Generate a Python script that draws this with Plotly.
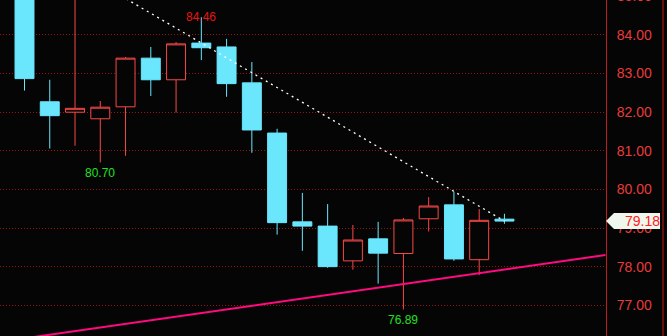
import plotly.graph_objects as go

# ---- data ----
idx = list(range(20))
opens  = [85.60, 82.27, 82.00, 81.83, 82.14, 83.40, 82.84, 83.79, 83.69, 82.76,
          81.46, 79.16, 79.05, 78.15, 78.72, 78.34, 79.24, 79.60, 78.18, 79.23]
highs  = [85.90, 82.84, 85.30, 82.29, 83.43, 83.69, 83.82, 84.46, 83.90, 83.30,
          81.57, 79.91, 79.62, 79.08, 79.16, 79.26, 79.80, 79.94, 79.49, 79.37]
lows   = [82.56, 81.06, 81.13, 80.70, 80.87, 82.42, 81.99, 83.35, 82.40, 80.95,
          78.83, 78.41, 77.97, 77.92, 77.56, 76.89, 78.91, 78.15, 77.78, 79.11]
closes = [82.87, 81.91, 82.10, 82.13, 83.40, 82.84, 83.77, 83.67, 82.74, 81.54,
          79.14, 79.05, 78.00, 78.69, 78.35, 79.21, 79.57, 78.20, 79.20, 79.18]

resist_x = [3, 19]
resist_y = [85.33, 79.18]
support_x = [-1, 23]
support_y = [76.05, 78.30]

tick_vals = [77, 78, 79, 80, 81, 82, 83, 84]
marks = [(7, 84.46, "#e61414", 0), (3, 80.70, "#22e022", -11), (15, 76.89, "#22e022", -10)]
last_price = 79.18

Y_MIN, Y_MAX = 76.204, 84.906
X_MIN, X_MAX = -0.97, 23.02
PLOT_W, PLOT_H = 606, 336
px_per_unit = PLOT_H / (Y_MAX - Y_MIN)

CYAN = "#6ae6fd"
RED = "#f84848"
BG = "#050505"
AXRED = "#c01e1e"

fig = go.Figure()

fig.add_trace(go.Scatter(x=support_x, y=support_y, mode="lines",
                         line=dict(color="#ff0a80", width=2), hoverinfo="skip"))
fig.add_trace(go.Scatter(x=resist_x, y=resist_y, mode="lines",
                         line=dict(color="#ffffff", width=1.3, dash="2px,4px"), hoverinfo="skip"))

fig.add_trace(go.Candlestick(
    x=idx, open=opens, high=highs, low=lows, close=closes,
    increasing=dict(line=dict(color=RED, width=1), fillcolor=BG),
    decreasing=dict(line=dict(color=CYAN, width=1), fillcolor=CYAN),
    whiskerwidth=0,
))

annotations = []
for x, y, col, ys in marks:
    annotations.append(dict(x=x, y=y, xref="x", yref="y", text=f"{y:.2f}",
                            showarrow=False, yshift=ys, xanchor="center", yanchor="middle",
                            font=dict(family="Liberation Sans", size=12, color=col)))

# partially visible 85.00 label at top
annotations.append(dict(x=1 + 9 / PLOT_W, y=(85 - Y_MIN) / (Y_MAX - Y_MIN), xref="paper", yref="paper",
                        text="85.00", showarrow=False, xanchor="left", yanchor="middle",
                        font=dict(family="Liberation Sans", size=14, color="#e83c3c")))

# last price tag
dy = 8 / px_per_unit
x_tip = 1.0
x_sh = 1 + 8 / PLOT_W
x_end = 1 + 54 / PLOT_W
path = (f"M{x_tip},{last_price} L{x_sh},{last_price + dy} L{x_end},{last_price + dy} "
        f"L{x_end},{last_price - dy} L{x_sh},{last_price - dy} Z")
shapes = [
    dict(type="path", xref="paper", yref="y", path=path,
         fillcolor="#eef6ee", line=dict(width=0), layer="above"),
    dict(type="line", xref="paper", yref="paper", x0=1 + 57 / PLOT_W, x1=1 + 57 / PLOT_W,
         y0=0, y1=1, line=dict(color=AXRED, width=1)),
]
annotations.append(dict(x=1 + 17 / PLOT_W, y=last_price, xref="paper", yref="y",
                        text=f"{last_price:.2f}", showarrow=False, xanchor="left", yanchor="middle",
                        font=dict(family="Liberation Sans", size=14, color="#ff2020")))

fig.update_layout(
    width=667, height=336,
    margin=dict(l=0, r=667 - PLOT_W, t=0, b=0, pad=0),
    paper_bgcolor=BG, plot_bgcolor=BG,
    showlegend=False,
    boxgap=0.25, boxgroupgap=0,
    annotations=annotations, shapes=shapes,
    xaxis=dict(range=[X_MIN, X_MAX], visible=False, rangeslider=dict(visible=False),
               showgrid=False, zeroline=False),
    yaxis=dict(range=[Y_MIN, Y_MAX], side="right", tickvals=tick_vals, tickformat=".2f",
               showgrid=True, gridcolor="#9a1414", griddash="1px,2px", gridwidth=1,
               zeroline=False, showline=True, linecolor=AXRED, linewidth=1,
               ticks="", ticklabelstandoff=7,
               tickfont=dict(family="Liberation Sans", size=14, color="#e83c3c")),
)

fig.write_html("out.html")
